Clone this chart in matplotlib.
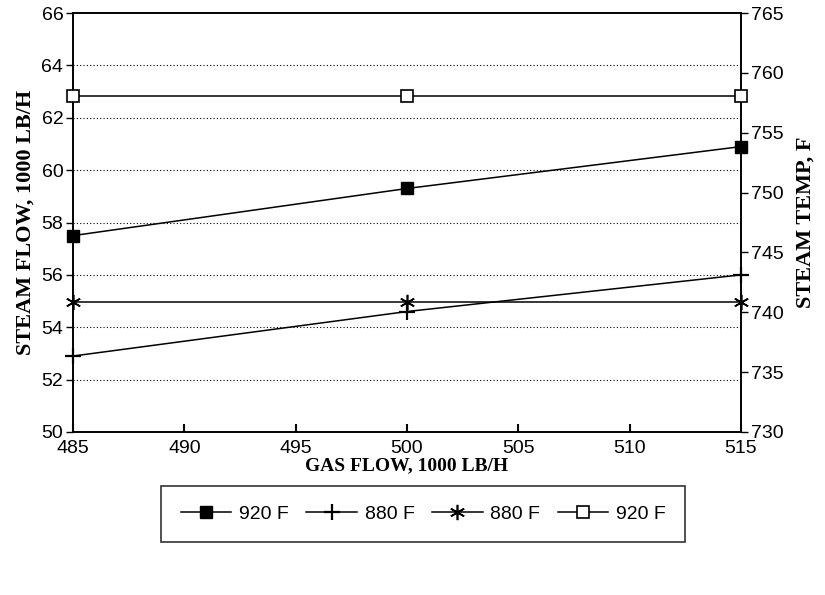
import matplotlib.pyplot as plt
from matplotlib.lines import Line2D

# Data
gas_flow = [485, 500, 515]
flow_920 = [57.5, 59.3, 60.9]      # steam flow, left axis
flow_880 = [52.9, 54.6, 56.0]      # steam flow, left axis
temp_880 = [740.9, 740.9, 740.9]   # steam temp, right axis
temp_920 = [758.1, 758.1, 758.1]   # steam temp, right axis
labels = ['920 F', '880 F', '880 F', '920 F']

tick_font = 'Liberation Sans'
label_font = 'Liberation Serif'

fig = plt.figure(figsize=(8.25, 5.95), dpi=100)
ax = fig.add_axes([0.0885, 0.274, 0.8095, 0.704])
ax2 = ax.twinx()

ax.plot(gas_flow, flow_920, color='black', lw=1.1, marker='s', ms=9,
        mfc='black', mec='black', clip_on=False, zorder=5)
ax.plot(gas_flow, flow_880, color='black', lw=1.1, marker='+', ms=11,
        mew=1.6, clip_on=False, zorder=5)
ax2.plot(gas_flow, temp_880, color='black', lw=1.1, marker=(6, 2, 0), ms=11,
         mew=1.2, clip_on=False, zorder=5)
ax2.plot(gas_flow, temp_920, color='black', lw=1.1, marker='s', ms=8,
         mfc='white', mec='black', mew=1.2, clip_on=False, zorder=5)

ax.set_xlim(485, 515)
ax.set_ylim(50, 66)
ax.set_xticks(range(485, 516, 5))
ax.set_yticks(range(50, 67, 2))
ax2.set_ylim(730, 765)
ax2.set_yticks(range(730, 766, 5))

for y in range(52, 66, 2):
    ax.axhline(y, color='black', lw=0.8, ls=(0, (1, 2)), zorder=1)

for a in (ax, ax2):
    for s in a.spines.values():
        s.set_linewidth(1.2)
        s.set_color('black')

ax.tick_params(axis='y', direction='out', length=5, width=1, pad=2, labelsize=14)
ax.tick_params(axis='x', direction='in', length=6, width=1.5, pad=6, labelsize=14)
ax2.tick_params(axis='y', direction='out', length=5, width=1, pad=2, labelsize=14)
for lab in ax.get_xticklabels() + ax.get_yticklabels() + ax2.get_yticklabels():
    lab.set_fontfamily(tick_font)

ax.set_xlabel('GAS FLOW, 1000 LB/H', fontfamily=label_font, fontweight='bold',
              fontsize=14, labelpad=0)
ax.set_ylabel('STEAM FLOW, 1000 LB/H', fontfamily=label_font, fontweight='bold',
              fontsize=16, labelpad=4)
ax2.set_ylabel('STEAM TEMP, F', fontfamily=label_font, fontweight='bold',
               fontsize=16, labelpad=9)

handles = [
    Line2D([], [], color='black', lw=1.1, marker='s', ms=9, mfc='black'),
    Line2D([], [], color='black', lw=1.1, marker='+', ms=11, mew=1.6),
    Line2D([], [], color='black', lw=1.1, marker=(6, 2, 0), ms=11, mew=1.2),
    Line2D([], [], color='black', lw=1.1, marker='s', ms=8, mfc='white', mew=1.2),
]
leg = fig.legend(handles, labels, loc='center', bbox_to_anchor=(0.513, 0.136),
                 ncol=4, frameon=True, fancybox=False, edgecolor='black',
                 handlelength=2.6, handletextpad=0.4, columnspacing=0.9,
                 borderpad=1.0, prop={'family': tick_font, 'size': 14})
leg.get_frame().set_linewidth(1.2)

fig.savefig('out.png', dpi=100, facecolor='white')
